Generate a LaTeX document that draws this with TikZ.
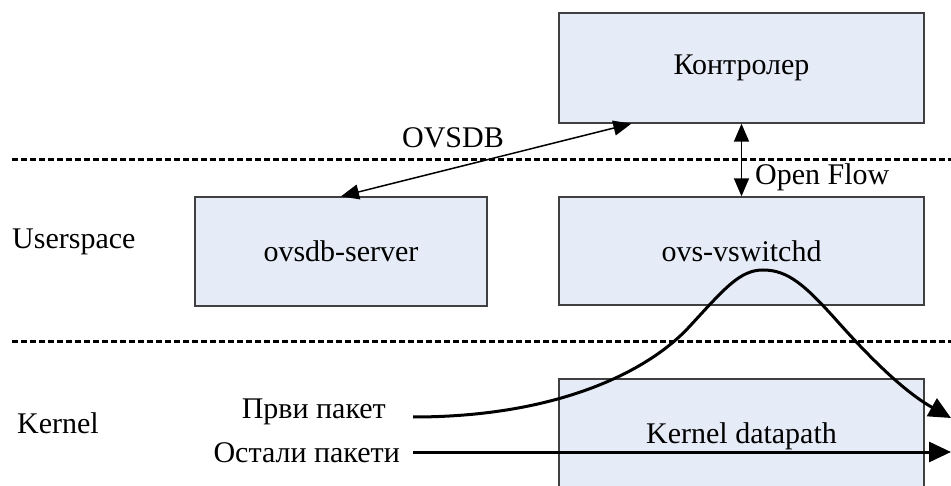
\documentclass[tikz,border=0pt]{standalone}
\usepackage{fontspec}
\setmainfont{Liberation Serif}
\usepackage{xcolor}
\usepackage{tikz}
\usetikzlibrary{arrows.meta}

\definecolor{boxfill}{RGB}{230,236,247}

\begin{document}
\begin{tikzpicture}[x=1pt, y=-1pt,
    box/.style={draw=black!75, line width=1.3pt, fill=boxfill, inner sep=0pt,
      minimum width=365pt, font=\fontsize{30}{36}\selectfont},
    lbl/.style={inner sep=0pt, font=\fontsize{30}{36}\selectfont},
    sep/.style={line width=3pt, dash pattern=on 6pt off 3pt},
    link/.style={line width=1.5pt, {Triangle[length=18pt,width=15pt]}-{Triangle[length=18pt,width=15pt]}},
    pkt/.style={line width=3pt, -{Triangle[length=22pt,width=20pt]}}]
      \useasboundingbox (0,0) rectangle (951,486);

      % Layers
      \draw[sep] (12,160) -- (951,160);
      \draw[sep] (12,342) -- (951,342);
      \node[lbl, anchor=base west] (user) at (12,249) {Userspace};
      \node[lbl, anchor=base west] (kern) at (17,433) {Kernel};

      % Boxes
      \node[box, minimum height=110pt] (ctl) at (741.5,68) {Контролер};
      \node[box, minimum width=292pt, minimum height=109pt] (srv) at (341,251.5) {ovsdb-server};
      \node[box, minimum height=108pt] (vsw) at (741.5,251) {ovs-vswitchd};
      \begin{scope}
        \clip (0,0) rectangle (951,486);
        \node[box, minimum height=160pt] (dp) at (741.5,459) {};
      \end{scope}
      \node[lbl, anchor=base] (dptext) at (741.5,443) {Kernel datapath};

      % Links
      \draw[link] (srv.north) -- ([xshift=73pt]ctl.south west);
      \node[lbl, anchor=base] (ovsdb) at (453,148) {OVSDB};
      \draw[link] (ctl.south) -- (vsw.north);
      \node[lbl, anchor=base west] (of) at (755,185) {Open Flow};

      % Packets
      \coordinate (in1) at (413,417);
      \coordinate (out1) at (951,418);
      \coordinate (in2) at (413,452);
      \coordinate (out2) at (951,452);
      \node[lbl, anchor=base east] (first) at (386,418) {Први пакет};
      \node[lbl, anchor=base east] (rest) at (400,462) {Остали пакети};
      \draw[pkt] (in1) .. controls (560,417) and (650,370) .. (690,326)
        .. controls (725,288) and (740,270) .. (763,270)
        .. controls (788,270) and (805,285) .. (838,322)
        .. controls (880,369) and (910,395) .. (out1);
      \draw[pkt] (in2) -- (out2);
    \end{tikzpicture}
\end{document}
